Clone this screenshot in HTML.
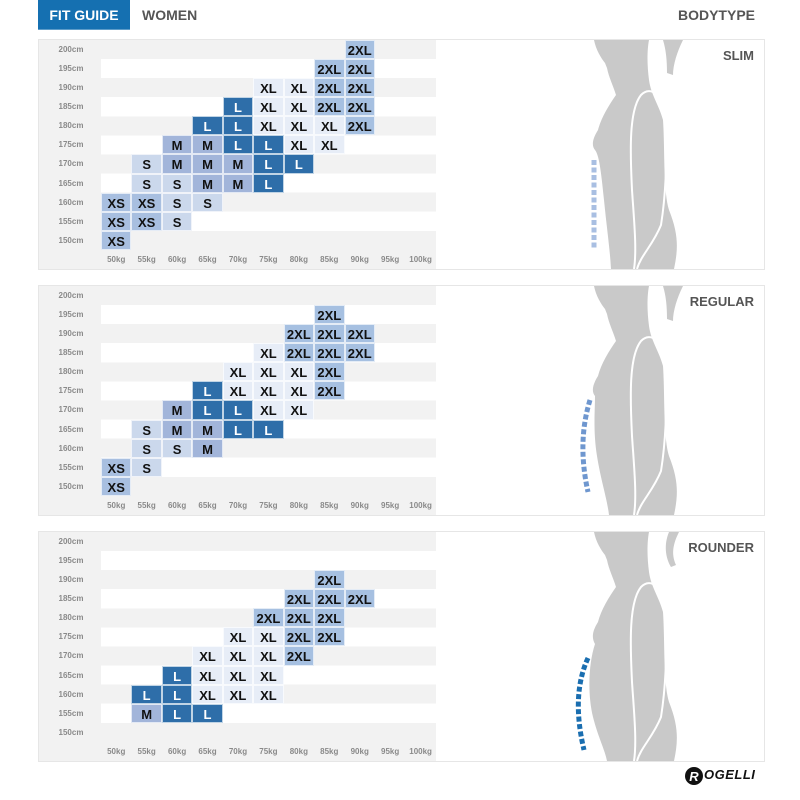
<!DOCTYPE html>
<html><head><meta charset="utf-8"><style>
*{margin:0;padding:0;box-sizing:border-box}
body{width:800px;height:800px;background:#fff;position:relative;overflow:hidden;font-family:"Liberation Sans",Arial,sans-serif}
.hdr{position:absolute;top:0;height:30px;line-height:31px;font-weight:bold;font-size:14px}
.panel{position:absolute;left:38px;width:727px;height:231px;border:1px solid #e6e6e6}
.grid{position:absolute;left:0;top:0;width:397px;height:229px;display:grid;grid-template-columns:62px repeat(11,30.45px);grid-template-rows:repeat(12,19.08px);
background:repeating-linear-gradient(#f2f2f2 0 19.08px,#fff 19.08px 38.16px)}
.grid .lc{grid-column:1;background:#f2f2f2;font-size:8px;font-weight:bold;color:#8a8a8a;text-align:center;line-height:19px;padding-left:2px}
.grid .xl{grid-row:12;font-size:8px;font-weight:bold;color:#8a8a8a;text-align:center;line-height:19px;background:#f2f2f2}
.grid b{font-size:13px;font-weight:bold;text-align:center;line-height:19px;color:#111;border:1px solid rgba(255,255,255,.7)}
.XS{background:#a8bfe0}.S{background:#cbd8ec}.M{background:#a2b5da}.L{background:#2e6ea9;color:#fff!important}.XL{background:#e7edf7}.X2{background:#a6c0e1}
.bt{position:absolute;right:10px;top:8px;font-size:13px;font-weight:bold;color:#555}
svg.body{position:absolute;left:397px;top:0}
</style></head><body>
<div class="hdr" style="left:38px;width:92px;background:#1570b1;color:#fff;text-align:center;border-bottom:1px solid #5d9cc9">FIT GUIDE</div>
<div class="hdr" style="left:142px;color:#555">WOMEN</div>
<div class="hdr" style="right:45px;color:#555">BODYTYPE</div>

<!-- PANEL 1 -->
<div class="panel" style="top:39px">
<div class="grid">
<div class="lc" style="grid-row:1">200cm</div><div class="lc" style="grid-row:2">195cm</div><div class="lc" style="grid-row:3">190cm</div><div class="lc" style="grid-row:4">185cm</div><div class="lc" style="grid-row:5">180cm</div><div class="lc" style="grid-row:6">175cm</div><div class="lc" style="grid-row:7">170cm</div><div class="lc" style="grid-row:8">165cm</div><div class="lc" style="grid-row:9">160cm</div><div class="lc" style="grid-row:10">155cm</div><div class="lc" style="grid-row:11">150cm</div><div class="lc" style="grid-row:12"></div>
<div class="xl" style="grid-column:2">50kg</div><div class="xl" style="grid-column:3">55kg</div><div class="xl" style="grid-column:4">60kg</div><div class="xl" style="grid-column:5">65kg</div><div class="xl" style="grid-column:6">70kg</div><div class="xl" style="grid-column:7">75kg</div><div class="xl" style="grid-column:8">80kg</div><div class="xl" style="grid-column:9">85kg</div><div class="xl" style="grid-column:10">90kg</div><div class="xl" style="grid-column:11">95kg</div><div class="xl" style="grid-column:12">100kg</div>
<b class="X2" style="grid-area:1/10">2XL</b>
<b class="X2" style="grid-area:2/9">2XL</b><b class="X2" style="grid-area:2/10">2XL</b>
<b class="XL" style="grid-area:3/7">XL</b><b class="XL" style="grid-area:3/8">XL</b><b class="X2" style="grid-area:3/9">2XL</b><b class="X2" style="grid-area:3/10">2XL</b>
<b class="L" style="grid-area:4/6">L</b><b class="XL" style="grid-area:4/7">XL</b><b class="XL" style="grid-area:4/8">XL</b><b class="X2" style="grid-area:4/9">2XL</b><b class="X2" style="grid-area:4/10">2XL</b>
<b class="L" style="grid-area:5/5">L</b><b class="L" style="grid-area:5/6">L</b><b class="XL" style="grid-area:5/7">XL</b><b class="XL" style="grid-area:5/8">XL</b><b class="XL" style="grid-area:5/9">XL</b><b class="X2" style="grid-area:5/10">2XL</b>
<b class="M" style="grid-area:6/4">M</b><b class="M" style="grid-area:6/5">M</b><b class="L" style="grid-area:6/6">L</b><b class="L" style="grid-area:6/7">L</b><b class="XL" style="grid-area:6/8">XL</b><b class="XL" style="grid-area:6/9">XL</b>
<b class="S" style="grid-area:7/3">S</b><b class="M" style="grid-area:7/4">M</b><b class="M" style="grid-area:7/5">M</b><b class="M" style="grid-area:7/6">M</b><b class="L" style="grid-area:7/7">L</b><b class="L" style="grid-area:7/8">L</b>
<b class="S" style="grid-area:8/3">S</b><b class="S" style="grid-area:8/4">S</b><b class="M" style="grid-area:8/5">M</b><b class="M" style="grid-area:8/6">M</b><b class="L" style="grid-area:8/7">L</b>
<b class="XS" style="grid-area:9/2">XS</b><b class="XS" style="grid-area:9/3">XS</b><b class="S" style="grid-area:9/4">S</b><b class="S" style="grid-area:9/5">S</b>
<b class="XS" style="grid-area:10/2">XS</b><b class="XS" style="grid-area:10/3">XS</b><b class="S" style="grid-area:10/4">S</b>
<b class="XS" style="grid-area:11/2">XS</b>
</div>
<svg class="body" width="328" height="229" viewBox="435 0 328 229">
<path d="M593,0 C595,10 600,18 604,23 L606,28 C608,38 612,45 615,55 C608,65 600,78 597,90 C592,98 590,105 594,110 C598,115 600,130 603,160 C606,190 609,210 610,229 L673,229 C677,210 678,195 668,170 C662,150 664,110 662,80 C658,65 650,55 648,40 C646,25 646,10 648,0 Z" fill="#c9c9c9"/>
<path d="M662,0 L682,0 C676,12 672,25 672,35 L666,33 C666,20 665,10 662,0Z" fill="#c9c9c9"/>
<path d="M633,229 C636,210 633,180 631,150 C629,110 628,70 640,55 C650,45 663,55 664,80 C667,120 664,160 660,185 C652,205 640,215 636,229" fill="none" stroke="#fff" stroke-width="2"/>
<line x1="593" y1="120" x2="593" y2="208" stroke="#a9bfe2" stroke-width="5" stroke-dasharray="5,2.5"/>
</svg>
<div class="bt">SLIM</div>
</div>

<!-- PANEL 2 -->
<div class="panel" style="top:285px">
<div class="grid">
<div class="lc" style="grid-row:1">200cm</div><div class="lc" style="grid-row:2">195cm</div><div class="lc" style="grid-row:3">190cm</div><div class="lc" style="grid-row:4">185cm</div><div class="lc" style="grid-row:5">180cm</div><div class="lc" style="grid-row:6">175cm</div><div class="lc" style="grid-row:7">170cm</div><div class="lc" style="grid-row:8">165cm</div><div class="lc" style="grid-row:9">160cm</div><div class="lc" style="grid-row:10">155cm</div><div class="lc" style="grid-row:11">150cm</div><div class="lc" style="grid-row:12"></div>
<div class="xl" style="grid-column:2">50kg</div><div class="xl" style="grid-column:3">55kg</div><div class="xl" style="grid-column:4">60kg</div><div class="xl" style="grid-column:5">65kg</div><div class="xl" style="grid-column:6">70kg</div><div class="xl" style="grid-column:7">75kg</div><div class="xl" style="grid-column:8">80kg</div><div class="xl" style="grid-column:9">85kg</div><div class="xl" style="grid-column:10">90kg</div><div class="xl" style="grid-column:11">95kg</div><div class="xl" style="grid-column:12">100kg</div>
<b class="X2" style="grid-area:2/9">2XL</b>
<b class="X2" style="grid-area:3/8">2XL</b><b class="X2" style="grid-area:3/9">2XL</b><b class="X2" style="grid-area:3/10">2XL</b>
<b class="XL" style="grid-area:4/7">XL</b><b class="X2" style="grid-area:4/8">2XL</b><b class="X2" style="grid-area:4/9">2XL</b><b class="X2" style="grid-area:4/10">2XL</b>
<b class="XL" style="grid-area:5/6">XL</b><b class="XL" style="grid-area:5/7">XL</b><b class="XL" style="grid-area:5/8">XL</b><b class="X2" style="grid-area:5/9">2XL</b>
<b class="L" style="grid-area:6/5">L</b><b class="XL" style="grid-area:6/6">XL</b><b class="XL" style="grid-area:6/7">XL</b><b class="XL" style="grid-area:6/8">XL</b><b class="X2" style="grid-area:6/9">2XL</b>
<b class="M" style="grid-area:7/4">M</b><b class="L" style="grid-area:7/5">L</b><b class="L" style="grid-area:7/6">L</b><b class="XL" style="grid-area:7/7">XL</b><b class="XL" style="grid-area:7/8">XL</b>
<b class="S" style="grid-area:8/3">S</b><b class="M" style="grid-area:8/4">M</b><b class="M" style="grid-area:8/5">M</b><b class="L" style="grid-area:8/6">L</b><b class="L" style="grid-area:8/7">L</b>
<b class="S" style="grid-area:9/3">S</b><b class="S" style="grid-area:9/4">S</b><b class="M" style="grid-area:9/5">M</b>
<b class="XS" style="grid-area:10/2">XS</b><b class="S" style="grid-area:10/3">S</b>
<b class="XS" style="grid-area:11/2">XS</b>
</div>
<svg class="body" width="328" height="229" viewBox="435 0 328 229">
<path d="M593,0 C595,10 600,18 604,23 L606,28 C608,38 612,45 615,55 C608,65 600,78 597,90 C592,98 590,105 594,110 C594,125 592,145 596,170 C600,195 606,212 608,229 L673,229 C677,210 678,195 668,170 C662,150 664,110 662,80 C658,65 650,55 648,40 C646,25 646,10 648,0 Z" fill="#c9c9c9"/>
<path d="M662,0 L682,0 C676,12 672,25 672,35 L666,33 C666,20 665,10 662,0Z" fill="#c9c9c9"/>
<path d="M633,229 C636,210 633,180 631,150 C629,110 628,70 640,55 C650,45 663,55 664,80 C667,120 664,160 660,185 C652,205 640,215 636,229" fill="none" stroke="#fff" stroke-width="2"/>
<path d="M589,114 C581,140 579,170 587,206" fill="none" stroke="#6f97cf" stroke-width="5" stroke-dasharray="5,2.5"/>
</svg>
<div class="bt">REGULAR</div>
</div>

<!-- PANEL 3 -->
<div class="panel" style="top:531px">
<div class="grid">
<div class="lc" style="grid-row:1">200cm</div><div class="lc" style="grid-row:2">195cm</div><div class="lc" style="grid-row:3">190cm</div><div class="lc" style="grid-row:4">185cm</div><div class="lc" style="grid-row:5">180cm</div><div class="lc" style="grid-row:6">175cm</div><div class="lc" style="grid-row:7">170cm</div><div class="lc" style="grid-row:8">165cm</div><div class="lc" style="grid-row:9">160cm</div><div class="lc" style="grid-row:10">155cm</div><div class="lc" style="grid-row:11">150cm</div><div class="lc" style="grid-row:12"></div>
<div class="xl" style="grid-column:2">50kg</div><div class="xl" style="grid-column:3">55kg</div><div class="xl" style="grid-column:4">60kg</div><div class="xl" style="grid-column:5">65kg</div><div class="xl" style="grid-column:6">70kg</div><div class="xl" style="grid-column:7">75kg</div><div class="xl" style="grid-column:8">80kg</div><div class="xl" style="grid-column:9">85kg</div><div class="xl" style="grid-column:10">90kg</div><div class="xl" style="grid-column:11">95kg</div><div class="xl" style="grid-column:12">100kg</div>
<b class="X2" style="grid-area:3/9">2XL</b>
<b class="X2" style="grid-area:4/8">2XL</b><b class="X2" style="grid-area:4/9">2XL</b><b class="X2" style="grid-area:4/10">2XL</b>
<b class="X2" style="grid-area:5/7">2XL</b><b class="X2" style="grid-area:5/8">2XL</b><b class="X2" style="grid-area:5/9">2XL</b>
<b class="XL" style="grid-area:6/6">XL</b><b class="XL" style="grid-area:6/7">XL</b><b class="X2" style="grid-area:6/8">2XL</b><b class="X2" style="grid-area:6/9">2XL</b>
<b class="XL" style="grid-area:7/5">XL</b><b class="XL" style="grid-area:7/6">XL</b><b class="XL" style="grid-area:7/7">XL</b><b class="X2" style="grid-area:7/8">2XL</b>
<b class="L" style="grid-area:8/4">L</b><b class="XL" style="grid-area:8/5">XL</b><b class="XL" style="grid-area:8/6">XL</b><b class="XL" style="grid-area:8/7">XL</b>
<b class="L" style="grid-area:9/3">L</b><b class="L" style="grid-area:9/4">L</b><b class="XL" style="grid-area:9/5">XL</b><b class="XL" style="grid-area:9/6">XL</b><b class="XL" style="grid-area:9/7">XL</b>
<b class="M" style="grid-area:10/3">M</b><b class="L" style="grid-area:10/4">L</b><b class="L" style="grid-area:10/5">L</b>
</div>
<svg class="body" width="328" height="229" viewBox="435 0 328 229">
<path d="M593,0 C595,10 600,18 604,23 L606,28 C608,38 612,45 615,55 C608,65 600,78 597,90 C592,98 590,105 594,112 C588,130 586,160 592,185 C597,205 604,218 606,229 L673,229 C677,210 678,195 668,170 C662,150 664,110 662,80 C658,65 650,55 648,40 C646,25 646,10 648,0 Z" fill="#c9c9c9"/>
<path d="M668,0 L678,0 C672,12 670,22 675,33 L670,35 C664,25 663,12 668,0Z" fill="#c9c9c9"/>
<path d="M633,229 C636,210 633,180 631,150 C629,110 628,70 640,55 C650,45 663,55 664,80 C667,120 664,160 660,185 C652,205 640,215 636,229" fill="none" stroke="#fff" stroke-width="2"/>
<path d="M587,126 C576,150 574,180 583,218" fill="none" stroke="#1a6eb0" stroke-width="5" stroke-dasharray="5,2.5"/>
</svg>
<div class="bt">ROUNDER</div>
</div>

<svg style="position:absolute;left:684px;top:766px" width="20" height="20"><circle cx="10" cy="10" r="9" fill="#111"/><text x="10" y="15" font-family="Liberation Sans" font-weight="bold" font-style="italic" font-size="13" fill="#fff" text-anchor="middle">R</text></svg>
<div style="position:absolute;left:704px;top:767px;font-size:13px;font-weight:bold;font-style:italic;color:#111;letter-spacing:0.5px">OGELLI</div>
</body></html>
